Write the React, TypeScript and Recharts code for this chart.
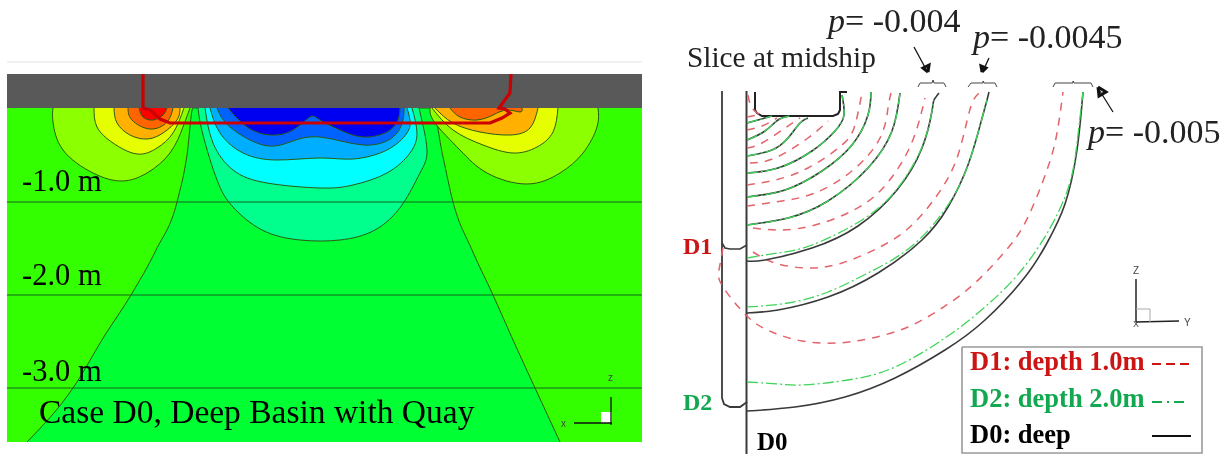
import { ComposedChart, Area, Line, XAxis, YAxis } from 'recharts';

type Pt = [number, number];

const W = 1231;
const H = 454;

// ---------- left panel: pressure contours ----------
const plotBack: Pt[] = [[7, 108], [642, 108]];
const hullBand: Pt[] = [[7, 74], [642, 74]];
const topRule: Pt[] = [[7, 62], [642, 62]];
const depthLevels = [202, 295, 388];
const centerGreen: Pt[] = [[27, 442], [73, 388], [105, 335], [131, 295], [156, 250], [177, 202], [187, 155], [193, 108], [432, 108], [443, 157], [453, 202], [472, 250], [493, 295], [513, 340], [535, 388], [560, 442]];

const limeL: Pt[] = [[53, 108], [53, 122], [63, 150], [93, 173], [122, 181], [147, 173], [170, 153], [183, 127], [190, 108]];
const yellowL: Pt[] = [[94, 108], [97, 127], [113, 143], [137, 154], [157, 148], [173, 133], [184, 108]];
const amberL: Pt[] = [[114, 108], [117, 123], [130, 135], [147, 139], [163, 133], [177, 120], [180, 108]];
const orangeL: Pt[] = [[128, 108], [132, 120], [150, 129], [167, 122], [173, 108]];
const redL: Pt[] = [[139, 108], [143, 117], [153, 120], [163, 115], [167, 108]];

const limeR: Pt[] = [[430, 108], [435, 123], [460, 150], [487, 173], [527, 184], [560, 173], [583, 153], [597, 127], [598, 108]];
const yellowR: Pt[] = [[432, 108], [453, 130], [483, 145], [513, 153], [537, 147], [553, 132], [558, 108]];
const amberR: Pt[] = [[435, 108], [453, 123], [480, 132], [510, 135], [530, 128], [538, 108]];
const orangeR: Pt[] = [[450, 108], [460, 117], [477, 120], [493, 115], [507, 110], [520, 112], [522, 108]];

const spring: Pt[] = [[198, 108], [203, 135], [217, 180], [233, 207], [262, 230], [300, 240], [340, 240], [375, 230], [402, 205], [420, 173], [427, 150], [419, 108]];
const cyan: Pt[] = [[205, 108], [213, 143], [233, 170], [267, 183], [320, 188], [353, 185], [387, 173], [410, 153], [417, 133], [412, 108]];
const sky: Pt[] = [[210, 108], [220, 133], [243, 153], [277, 160], [320, 158], [353, 159], [387, 150], [407, 133], [410, 120], [407, 108]];
const blue: Pt[] = [[217, 108], [230, 127], [263, 145], [290, 142], [320, 137], [363, 145], [393, 137], [403, 120], [404, 108]];
const navy: Pt[] = [[228, 108], [247, 127], [270, 135], [293, 130], [310, 117], [320, 120], [340, 130], [363, 137], [387, 132], [398, 120], [400, 108]];

const hullSection: Pt[] = [[143, 74], [143, 108], [150, 110], [160, 119], [170, 123], [320, 123], [490, 123], [502, 118], [510, 113], [505, 109], [499, 108], [510, 93], [511, 74]];

const leftAxisZ: Pt[] = [[611, 397], [611, 425]];
const leftAxisX: Pt[] = [[574, 423], [612, 423]];
const leftAxisBox: Pt[] = [[601, 423], [612, 423]];

// ---------- right panel: slice at midship ----------
const wall: Pt[] = [[746.5, 91], [746.5, 454]];
const strutOuter: Pt[] = [[722, 91], [722, 398], [724, 404], [730, 407], [740, 407], [747, 402]];
const strutStep: Pt[] = [[722, 243], [725, 248], [730, 249], [740, 249], [747, 245]];
const hullBox: Pt[] = [[755, 92], [755, 110], [757, 113], [762, 116], [833, 116], [838, 114], [840, 110], [840, 92], [847, 92]];

const d0a: Pt[] = [[747, 123], [758, 120], [772, 116]];
const d0b: Pt[] = [[747, 140], [765, 131], [778, 120], [790, 116]];
const d0c: Pt[] = [[747, 156], [772, 150], [788, 138], [800, 123], [808, 118]];
const d0d: Pt[] = [[747, 173], [778, 168], [812, 151], [835, 131], [844, 115], [842, 95]];
const d0e: Pt[] = [[747, 197], [785, 190], [822, 171], [852, 145], [868, 115], [871, 92]];
const d0f: Pt[] = [[747, 225], [788, 218], [828, 201], [868, 168], [892, 131], [900, 93]];
const d0g: Pt[] = [[747, 261], [765, 260], [812, 248], [858, 226], [897, 190], [922, 148], [932, 111], [934, 100], [939, 93]];
const d0h: Pt[] = [[747, 313], [778, 310], [828, 297], [878, 273], [922, 240], [948, 207], [968, 165], [981, 122], [987, 100], [989, 92]];
const d0i: Pt[] = [[747, 411], [795, 407], [845, 397], [895, 378], [945, 350], [985, 320], [1025, 277], [1047, 243], [1065, 204], [1077, 150], [1083, 92]];

const d2g: Pt[] = [[747, 258], [778, 253], [812, 245], [862, 220], [897, 189], [922, 147], [932, 111], [934, 100]];
const d2h: Pt[] = [[747, 307], [788, 303], [828, 292], [868, 273], [912, 246], [948, 205], [968, 165], [981, 122], [987, 100]];
const d2i: Pt[] = [[747, 382], [778, 384], [802, 385], [848, 380], [895, 367], [945, 338], [985, 307], [1028, 262], [1065, 197], [1077, 143], [1083, 92]];

const d1o: Pt[] = [[748, 95], [752, 108], [762, 116]];
const d1a: Pt[] = [[747, 117], [757, 115]];
const d1b: Pt[] = [[747, 130], [762, 126], [777, 118]];
const d1c: Pt[] = [[747, 148], [762, 143], [785, 128], [800, 118]];
const d1d: Pt[] = [[750, 163], [775, 158], [808, 138], [828, 121]];
const d1e: Pt[] = [[747, 185], [775, 180], [808, 168], [842, 145], [855, 125], [862, 93]];
const d1f: Pt[] = [[747, 206], [782, 201], [815, 193], [852, 171], [880, 138], [888, 108], [891, 93]];
const d1g: Pt[] = [[753, 228], [782, 230], [815, 225], [852, 211], [883, 188], [908, 151], [920, 118], [925, 98]];
const d1h: Pt[] = [[753, 252], [775, 263], [808, 268], [842, 263], [878, 248], [912, 225], [942, 188], [958, 155], [967, 121], [973, 101], [980, 92]];
const d1i: Pt[] = [[723, 248], [719, 270], [723, 287], [748, 317], [772, 332], [802, 341], [838, 343], [872, 338], [908, 327], [942, 308], [975, 283], [1008, 248], [1028, 217], [1047, 170], [1057, 133], [1063, 92]];

const braceA: Pt[] = [[918, 87], [920, 83], [932, 83], [933, 80], [934, 83], [944, 83], [946, 87]];
const braceB: Pt[] = [[968, 87], [971, 83], [983, 83], [983, 81], [984, 83], [995, 83], [997, 87]];
const braceC: Pt[] = [[1053, 87], [1055, 83], [1073, 83], [1073, 81], [1074, 83], [1091, 83], [1093, 87]];

const arrowA: Pt[] = [[914, 47], [927, 71]];
const arrowHeadA: Pt[] = [[928, 72], [929, 65], [923, 68], [928, 72]];
const arrowB: Pt[] = [[989, 58], [983, 71]];
const arrowHeadB: Pt[] = [[982, 72], [981, 66], [986, 68], [982, 72]];
const arrowC: Pt[] = [[1113, 112], [1098, 88]];
const arrowHeadC: Pt[] = [[1098, 87], [1099, 96], [1106, 92], [1098, 87]];

const rightAxisZ: Pt[] = [[1136, 279], [1136, 322]];
const rightAxisY: Pt[] = [[1136, 322], [1179, 321]];
const rightAxisBox: Pt[] = [[1136, 309], [1150, 309], [1150, 322]];

const legendBox: Pt[] = [[962, 347], [1202, 347], [1202, 453], [962, 453], [962, 347]];
const legendD1: Pt[] = [[1152, 364], [1192, 364]];
const legendD2: Pt[] = [[1152, 402], [1187, 402]];
const legendD0: Pt[] = [[1152, 436], [1191, 436]];

const CONTOUR = '#2c5a14';
const RED = '#cc1414';
const GREEN = '#12a850';
const D1_LINE = '#e4646c';
const D2_LINE = '#3fd45a';
const D0_LINE = '#3a3a3a';
const SERIF = '"Liberation Serif", serif';
const SANS = '"Liberation Sans", sans-serif';

const rows = (pts: Pt[]) => pts.map(([x, y]) => ({ x, y }));

const lobes: [Pt[], string][] = [
  [limeL, '#8cff00'], [yellowL, '#e6ff00'], [amberL, '#ffb000'], [orangeL, '#ff6400'], [redL, '#ff0000'],
  [limeR, '#8cff00'], [yellowR, '#e6ff00'], [amberR, '#ffb000'], [orangeR, '#ff6400'],
  [spring, '#00ff8c'], [cyan, '#00ffff'], [sky, '#00aeff'], [blue, '#0062ff'], [navy, '#0000f0'],
];

const d0Curves = [d0a, d0b, d0c, d0d, d0e, d0f, d0g, d0h, d0i];
const d2Curves = [d0a, d0b, d0c, d0d, d0e, d0f, d2g, d2h, d2i];
const d1Curves = [d1o, d1a, d1b, d1c, d1d, d1e, d1f, d1g, d1h, d1i];
const thinMarks = [braceA, braceB, braceC];
const arrows = [arrowA, arrowHeadA, arrowB, arrowHeadB, arrowC, arrowHeadC];

function path(id: string, pts: Pt[], stroke: string, width: number, type: any = 'linear', dash?: string) {
  return (
    <Line
      key={id}
      data={rows(pts)}
      dataKey="y"
      type={type}
      stroke={stroke}
      strokeWidth={width}
      strokeDasharray={dash}
      dot={false}
      activeDot={false}
      isAnimationActive={false}
      legendType="none"
    />
  );
}

function band(id: string, pts: Pt[], fill: string, base: number, stroke: string = 'none', type: any = 'monotone') {
  return (
    <Area
      key={id}
      data={rows(pts)}
      dataKey="y"
      baseValue={base}
      type={type}
      fill={fill}
      fillOpacity={1}
      stroke={stroke}
      strokeWidth={1}
      dot={false}
      activeDot={false}
      isAnimationActive={false}
      legendType="none"
    />
  );
}

function Label({ x, y, size, color = '#000', bold, family = SERIF, children }: any) {
  return (
    <text x={x} y={y} fontSize={size} fill={color} fontWeight={bold ? 700 : 400} fontFamily={family}>
      {children}
    </text>
  );
}

export default function App() {
  return (
    <div style={{ position: 'absolute', left: 0, top: 0, width: W, height: H, background: '#fff', filter: 'blur(0.45px)' }}>
      <ComposedChart width={W} height={H} margin={{ top: 0, right: 0, bottom: 0, left: 0 }}>
        <XAxis dataKey="x" type="number" domain={[0, W]} hide allowDuplicatedCategory />
        <YAxis type="number" domain={[0, H]} reversed hide width={0} />

        {path('top', topRule, '#ececec', 1.5)}
        {band('back', plotBack, '#33ff00', 442)}
        {band('center', centerGreen, '#00ff33', 442, CONTOUR)}
        {lobes.map(([pts, fill], i) => band(`lobe${i}`, pts, fill, 108, CONTOUR, 'natural'))}
        {band('gray', hullBand, '#595959', 108)}
        {depthLevels.map((y) => path(`depth${y}`, [[7, y], [642, y]], '#14641e', 1))}
        {path('hull', hullSection, '#cc0000', 3.2)}

        {path('lz', leftAxisZ, '#111', 1.3)}
        {path('lx', leftAxisX, '#111', 1.6)}
        {band('lbox', leftAxisBox, '#ffffff', 412)}

        {path('wall', wall, D0_LINE, 2)}
        {path('strut', strutOuter, D0_LINE, 1.8)}
        {path('step', strutStep, D0_LINE, 1.6)}
        {path('box', hullBox, '#222', 2)}
        {d1Curves.map((c, i) => path(`d1${i}`, c, D1_LINE, 1.5, 'natural', '8 7'))}
        {d0Curves.map((c, i) => path(`d0${i}`, c, D0_LINE, 1.6, 'natural'))}
        {d2Curves.map((c, i) => path(`d2${i}`, c, D2_LINE, 1.3, 'natural', '11 3 2 3'))}
        {thinMarks.map((c, i) => path(`brace${i}`, c, '#444', 1))}
        {arrows.map((c, i) => path(`arrow${i}`, c, '#111', i % 2 ? 3 : 1.3))}
        {path('rz', rightAxisZ, '#222', 1.5)}
        {path('ry', rightAxisY, '#222', 1.5)}
        {path('rbox', rightAxisBox, '#aaa', 1)}
        {path('legend', legendBox, '#9a9a9a', 1.6)}
        {path('key1', legendD1, RED, 1.8, 'linear', '9 5')}
        {path('key2', legendD2, GREEN, 1.8, 'linear', '10 5 2 5')}
        {path('key0', legendD0, '#111', 2)}
      </ComposedChart>

      {/* raw text inside the chart ends up under the areas, so it sits on top here */}
      <svg width={W} height={H} style={{ position: 'absolute', left: 0, top: 0 }}>
        <Label x={22} y={191} size={30.5}>-1.0 m</Label>
        <Label x={22} y={285} size={30.5}>-2.0 m</Label>
        <Label x={22} y={381} size={30.5}>-3.0 m</Label>
        <Label x={39} y={423} size={33.5}>Case D0, Deep Basin with Quay</Label>
        <Label x={608} y={381} size={10} color="#444" family={SANS}>z</Label>
        <Label x={561} y={427} size={10} color="#444" family={SANS}>x</Label>

        <Label x={687} y={67} size={29.3} color="#222">Slice at midship</Label>
        <Label x={828} y={32} size={34} color="#222"><tspan fontStyle="italic">p</tspan>= -0.004</Label>
        <Label x={973} y={48} size={34} color="#222"><tspan fontStyle="italic">p</tspan>= -0.0045</Label>
        <Label x={1088} y={143} size={34} color="#222"><tspan fontStyle="italic">p</tspan>= -0.005</Label>
        <Label x={683} y={254} size={24} color={RED} bold>D1</Label>
        <Label x={683} y={410} size={24} color={GREEN} bold>D2</Label>
        <Label x={757} y={450} size={25} bold>D0</Label>
        <Label x={1133} y={274} size={10} color="#444" family={SANS}>Z</Label>
        <Label x={1184} y={326} size={10} color="#444" family={SANS}>Y</Label>
        <Label x={1133} y={327} size={9} color="#444" family={SANS}>X</Label>

        <Label x={970} y={370} size={26.5} color={RED} bold>D1: depth 1.0m</Label>
        <Label x={970} y={407} size={26.5} color={GREEN} bold>D2: depth 2.0m</Label>
        <Label x={970} y={443} size={26.5} bold>D0: deep</Label>
      </svg>
    </div>
  );
}
